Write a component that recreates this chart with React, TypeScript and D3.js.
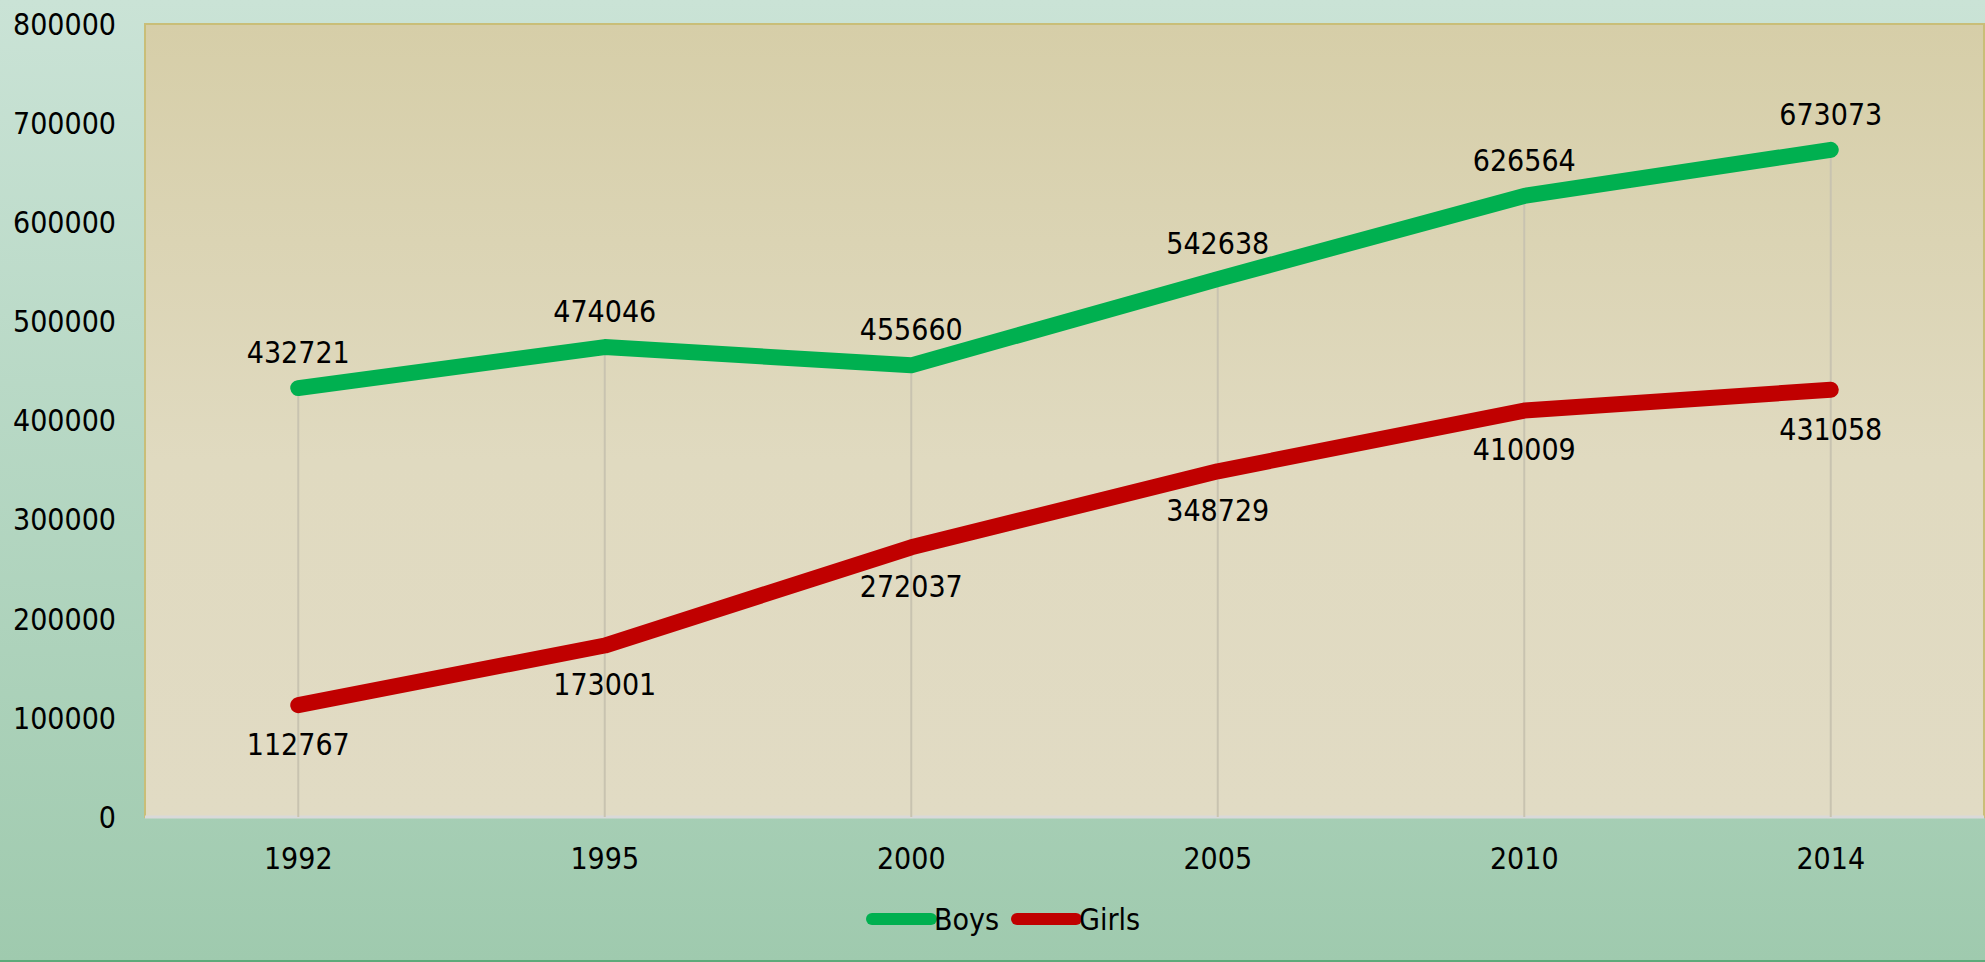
import React from 'react'
import * as d3 from 'd3'

const years = ['1992', '1995', '2000', '2005', '2010', '2014']
const boys = [432721, 474046, 455660, 542638, 626564, 673073]
const girls = [112767, 173001, 272037, 348729, 410009, 431058]
const yTicks = [0, 100000, 200000, 300000, 400000, 500000, 600000, 700000, 800000]

const W = 1985
const H = 962
const plot = { left: 145, top: 24, right: 1984, bottom: 817 }
const FONT = '"DejaVu Sans Condensed", "DejaVu Sans", sans-serif'
const FS = 30

export default function App() {
  const x = d3.scaleBand().domain(years).range([plot.left, plot.right]).padding(0)
  const y = d3.scaleLinear().domain([0, 800000]).range([plot.bottom, plot.top])
  const cx = (yr: string) => (x(yr) as number) + x.bandwidth() / 2

  const line = d3.line<number>()
    .x((d, i) => cx(years[i]))
    .y(d => y(d))

  const series = [
    { name: 'Boys', values: boys, color: '#00B050', above: true },
    { name: 'Girls', values: girls, color: '#C00000', above: false },
  ]

  return (
    <div style={{ position: 'absolute', left: 0, top: 0 }}>
      <svg width={W} height={H} style={{ display: 'block' }}>
        <defs>
          <linearGradient id="bg" x1="0" y1="0" x2="0" y2="1">
            <stop offset="0" stopColor="#CAE3D6" />
            <stop offset="1" stopColor="#9FCAAE" />
          </linearGradient>
          <linearGradient id="pa" x1="0" y1="0" x2="0" y2="1">
            <stop offset="0" stopColor="#D6CEA8" />
            <stop offset="0.55" stopColor="#E0DAC0" />
            <stop offset="1" stopColor="#E1DBC4" />
          </linearGradient>
        </defs>
        <rect x={0} y={0} width={W} height={H} fill="url(#bg)" />
        <line x1={0} x2={W} y1={H - 1} y2={H - 1} stroke="#5DAA7A" strokeWidth={2} />

        {/* plot area */}
        <rect x={plot.left} y={plot.top} width={plot.right - plot.left} height={plot.bottom - plot.top}
          fill="url(#pa)" stroke="#C9BE78" strokeWidth={2} />
        <line x1={plot.left} x2={plot.right} y1={plot.bottom} y2={plot.bottom} stroke="#D9D9D9" strokeWidth={3} />

        {/* drop lines */}
        {years.map((yr, i) => (
          <line key={yr} x1={cx(yr)} x2={cx(yr)} y1={y(Math.max(boys[i], girls[i]))} y2={plot.bottom}
            stroke="#C8C3B0" strokeWidth={2} />
        ))}

        {/* y axis labels */}
        {yTicks.map(t => (
          <text key={t} x={116} y={y(t)} dy="0.36em" textAnchor="end" fontFamily={FONT} fontSize={FS} fill="#000">
            {t}
          </text>
        ))}

        {/* x axis labels */}
        {years.map(yr => (
          <text key={yr} x={cx(yr)} y={858} dy="0.36em" textAnchor="middle" fontFamily={FONT} fontSize={FS} fill="#000">
            {yr}
          </text>
        ))}

        {/* lines */}
        {series.map(s => (
          <path key={s.name} d={line(s.values) as string} fill="none" stroke={s.color} strokeWidth={16}
            strokeLinecap="round" strokeLinejoin="round" />
        ))}

        {/* data labels */}
        {series.map(s => s.values.map((v, i) => (
          <text key={s.name + i} x={cx(years[i])} y={y(v) + (s.above ? -36 : 39)} dy="0.36em" textAnchor="middle"
            fontFamily={FONT} fontSize={FS} fill="#000">
            {v}
          </text>
        )))}

        {/* legend */}
        <line x1={872} x2={931} y1={919} y2={919} stroke="#00B050" strokeWidth={12} strokeLinecap="round" />
        <text x={934} y={919} dy="0.36em" fontFamily={FONT} fontSize={FS} fill="#000">Boys</text>
        <line x1={1017} x2={1076} y1={919} y2={919} stroke="#C00000" strokeWidth={12} strokeLinecap="round" />
        <text x={1079} y={919} dy="0.36em" fontFamily={FONT} fontSize={FS} fill="#000">Girls</text>
      </svg>
    </div>
  )
}
